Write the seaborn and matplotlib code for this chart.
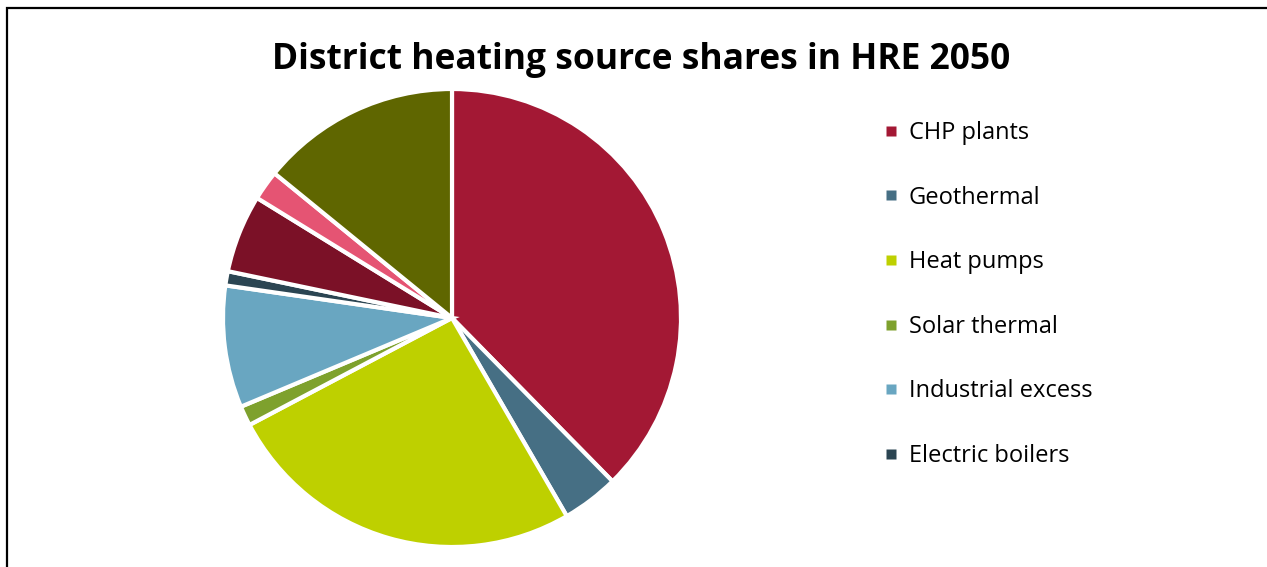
import matplotlib
matplotlib.use("Agg")
import matplotlib.pyplot as plt
import seaborn as sns
from matplotlib.patches import Rectangle
from matplotlib.lines import Line2D

sources = ["CHP plants", "Geothermal", "Heat pumps", "Solar thermal",
           "Industrial excess", "Electric boilers", "Fuel boilers",
           "Waste incineration", "Other"]
shares = [37.6, 4.0, 25.6, 1.4, 8.6, 1.0, 5.5, 2.1, 14.1]
colors = ["#A31834", "#466F84", "#BED000", "#7EA12D", "#69A6C1",
          "#2B4552", "#7B1127", "#E55473", "#5F6600"]
legend_count = 6
title = "District heating source shares in HRE 2050"

sns.set_theme(style="white")
plt.rcParams['font.family'] = ['Open Sans', 'DejaVu Sans']

W, H = 1267, 567
fig = plt.figure(figsize=(W / 100, H / 100), dpi=100)
fig.patch.set_facecolor("white")

# frame (extends beyond right/bottom edges as in reference)
fig.patches.append(Rectangle((7 / W, -0.1), 1.2, (H - 8) / H + 0.1,
                             transform=fig.transFigure, fill=False,
                             edgecolor="black", linewidth=1.6))

cx, cy, r = 452, 318, 229
ax = fig.add_axes([(cx - r) / W, (H - cy - r) / H, 2 * r / W, 2 * r / H])
wedges, _ = ax.pie(shares, colors=colors, startangle=90, counterclock=False,
                   radius=1.0,
                   wedgeprops=dict(edgecolor="white", linewidth=3.0))
ax.set_xlim(-1, 1)
ax.set_ylim(-1, 1)
ax.set_aspect("equal")
ax.axis("off")

fig.text(641 / W, 1 - 60 / H, title, ha="center", va="center",
         fontsize=25.5, fontweight="bold", color="black")

handles = [Line2D([], [], marker="s", linestyle="none", markersize=6.5,
                  markerfacecolor=c, markeredgecolor="none")
           for c in colors[:legend_count]]
leg = fig.legend(handles, sources[:legend_count], loc="upper left",
                 bbox_to_anchor=(885 / W, 1 - 121 / H), frameon=False,
                 fontsize=17, handlelength=0.55,
                 handletextpad=0.45, labelspacing=1.72, borderaxespad=0,
                 borderpad=0, labelcolor="black")

fig.savefig("out.png", dpi=100, facecolor="white")
